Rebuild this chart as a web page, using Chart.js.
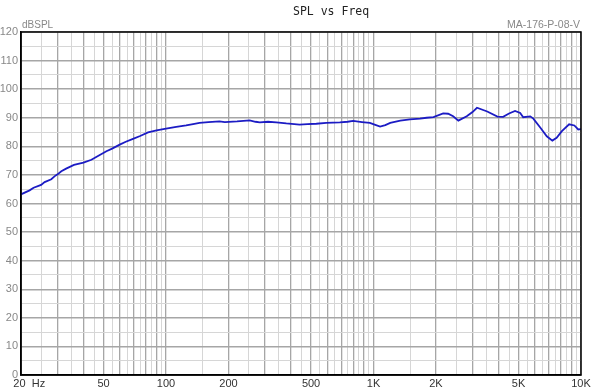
<!DOCTYPE html>
<html>
<head>
<meta charset="utf-8">
<script src="https://cdn.jsdelivr.net/npm/chart.js@4/dist/chart.umd.min.js"></script>
<style>
  html, body { margin: 0; padding: 0; background: #fff; }
</style>
</head>
<body>
<canvas id="splChart" width="600" height="390"></canvas>
<script>
var freqHz = [20, 22, 23, 25, 26, 28, 29, 30, 31.3, 33, 36, 40, 43.7, 47, 51.6, 55, 59.8, 64, 69.3, 75,
  81.9, 90, 100, 112, 125, 135, 145, 160, 181, 192, 220, 253, 270, 283, 310, 340, 380, 440, 480, 530,
  592, 688, 750, 798, 880, 960, 1020, 1076, 1140, 1204, 1346, 1498, 1676, 1802, 1946, 2166, 2290, 2420,
  2564, 2814, 3000, 3152, 3532, 3956, 4214, 4500, 4810, 5092, 5266, 5694, 5892, 6374, 6840, 7276, 7630,
  8088, 8766, 9290, 9700, 10000];
var splDb = [63.2, 64.6, 65.5, 66.5, 67.5, 68.5, 69.5, 70.2, 71.3, 72.2, 73.5, 74.3, 75.3, 76.6, 78.3, 79.2, 80.6, 81.6, 82.6, 83.6,
  84.9, 85.6, 86.2, 86.8, 87.3, 87.8, 88.2, 88.5, 88.7, 88.5, 88.7, 89.1, 88.6, 88.4, 88.6, 88.4, 88.0, 87.6, 87.8, 87.9,
  88.2, 88.4, 88.6, 88.9, 88.5, 88.2, 87.5, 86.9, 87.4, 88.2, 89.0, 89.4, 89.7, 90.0, 90.2, 91.5, 91.4, 90.5,
  89.0, 90.5, 92.0, 93.5, 92.2, 90.4, 90.3, 91.5, 92.4, 91.7, 90.2, 90.5, 89.7, 86.5, 83.5, 82.0, 83.0,
  85.3, 87.7, 87.3, 85.9, 86.0];

var xLabelValues = [20, 50, 100, 200, 500, 1000, 2000, 5000, 10000];
var xLabelTexts = ["\u2002\u2002\u200220  Hz", "50", "100", "200", "500", "1K", "2K", "5K", "10K"];

var chartTitle = "SPL vs Freq";
var yUnit = "dBSPL";
var modelName = "MA-176-P-08-V";

// grid lines every half step of each decade: 20, 25, 30 ... 9500, 10000
var gridValues = [];
[10, 100, 1000].forEach(function (d) {
  for (var m = 1; m < 10; m += 0.5) {
    var v = m * d;
    if (v >= 20 && v <= 10000) gridValues.push(v);
  }
});
gridValues.push(10000);

function isMajorX(v) {
  var d = Math.pow(10, Math.floor(Math.log10(v) + 1e-9));
  return Math.abs(v / d - Math.round(v / d)) < 1e-6;
}

var points = freqHz.map(function (f, i) { return { x: f, y: splDb[i] }; });

var frameAndText = {
  id: "frameAndText",
  afterDraw: function (chart) {
    var ctx = chart.ctx;
    var a = chart.chartArea;
    ctx.save();
    ctx.strokeStyle = "#000";
    ctx.lineWidth = 1.5;
    ctx.strokeRect(a.left, a.top, a.right - a.left, a.bottom - a.top);

    ctx.fillStyle = "#222";
    ctx.font = "11.5px 'DejaVu Sans Mono'";
    ctx.textBaseline = "middle";
    ctx.textAlign = "left";
    ctx.fillText(chartTitle, 293, 12);

    ctx.fillStyle = "#888";
    ctx.font = "10px 'Liberation Sans'";
    ctx.fillText(yUnit, 22, 25);
    ctx.font = "10.5px 'Liberation Sans'";
    ctx.textAlign = "right";
    ctx.fillText(modelName, 580, 25);
    ctx.restore();
  }
};

new Chart(document.getElementById("splChart").getContext("2d"), {
  type: "line",
  data: {
    datasets: [{
      data: points,
      borderColor: "#1c1cc4",
      borderWidth: 1.8,
      pointRadius: 0,
      tension: 0,
      fill: false
    }]
  },
  options: {
    responsive: false,
    animation: false,
    layout: { padding: { top: 32, right: 19, left: 0, bottom: 0 } },
    plugins: { legend: { display: false }, tooltip: { enabled: false } },
    scales: {
      x: {
        type: "logarithmic",
        min: 20,
        max: 10000,
        afterBuildTicks: function (scale) {
          scale.ticks = gridValues.map(function (v) { return { value: v }; });
        },
        afterFit: function (scale) {
          scale.height = 15;
          scale.paddingLeft = 0;
          scale.paddingRight = 0;
        },
        grid: {
          drawTicks: false,
          color: function (c) { return isMajorX(c.tick.value) ? "#a6a6a6" : "#d6d6d6"; },
          lineWidth: function (c) { return isMajorX(c.tick.value) ? 1.3 : 1; }
        },
        border: { color: "#000", width: 1.5 },
        ticks: {
          autoSkip: false,
          maxRotation: 0,
          minRotation: 0,
          padding: 2,
          color: "#333",
          font: { family: "'Liberation Sans'", size: 11 },
          callback: function (value) {
            var i = xLabelValues.indexOf(value);
            return i >= 0 ? xLabelTexts[i] : "";
          }
        }
      },
      y: {
        min: 0,
        max: 120,
        afterFit: function (scale) {
          scale.width = 21;
          scale.paddingTop = 0;
          scale.paddingBottom = 0;
        },
        grid: {
          drawTicks: false,
          color: function (c) { return c.tick.value % 10 === 0 ? "#a6a6a6" : "#d6d6d6"; },
          lineWidth: function (c) { return c.tick.value % 10 === 0 ? 1.5 : 1; }
        },
        border: { color: "#000", width: 1.5 },
        ticks: {
          stepSize: 5,
          autoSkip: false,
          padding: 3,
          color: "#888",
          font: { family: "'Liberation Sans'", size: 11 },
          callback: function (value) { return value % 10 === 0 ? value : ""; }
        }
      }
    }
  },
  plugins: [frameAndText]
});
</script>
</body>
</html>
